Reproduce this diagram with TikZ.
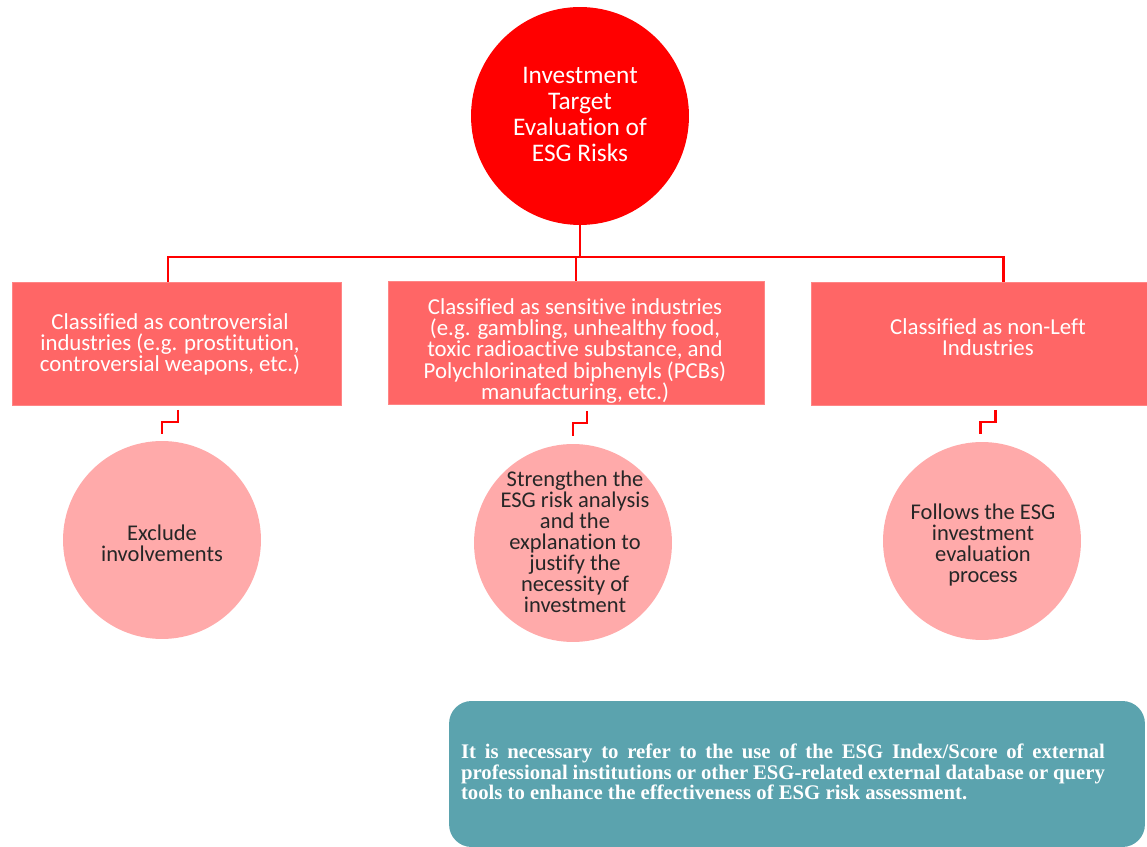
\documentclass[tikz,border=0pt]{standalone}
\usepackage{fontspec}
\setmainfont{Carlito}[Ligatures=NoCommon]
\newfontfamily\notefont{Liberation Serif}
\definecolor{riskred}{RGB}{255,0,0}
\definecolor{classred}{RGB}{255,102,102}
\definecolor{actpink}{RGB}{255,170,170}
\definecolor{noteteal}{RGB}{91,163,174}
\definecolor{darktext}{RGB}{38,38,38}
\tikzset{
  link/.style={riskred, line width=1.7pt},
  classbox/.style={fill=classred, draw=classred!80!white, minimum height=2.46cm, text=white, align=center,
    font=\fontsize{13}{12}\selectfont},
  actcircle/.style={circle, fill=actpink, minimum size=3.96cm, inner sep=0pt, text=darktext, align=center,
    font=\fontsize{12.8}{12}\selectfont}
}
\begin{document}
\begin{tikzpicture}[x=0.02cm, y=-0.02cm]
\useasboundingbox (0,0) rectangle (1147,847);

\node[circle, fill=riskred, minimum size=4.36cm, inner sep=0pt] (risk) at (580, 116) {};
\node[text=white, align=center, font=\fontsize{14.4}{14.8}\selectfont] (risktext) at (580, 114)
  {Investment\\Target\\Evaluation of\\ESG Risks};

% three classes
\node[classbox, minimum width=6.58cm] (ctrv) at (176.5, 344) {};
\node[classbox, minimum width=7.52cm] (sens) at (576, 343) {};
\node[classbox, minimum width=6.72cm] (nonleft) at (979, 344) {};
\node[text=white, align=center, font=\fontsize{13}{12}\selectfont] (ctrvtext) at (170, 344)
  {Classified as controversial\\industries (e.g. prostitution,\\controversial weapons, etc.)};
\node[text=white, align=center, font=\fontsize{13}{12}\selectfont] (senstext) at (575, 351)
  {Classified as sensitive industries\\(e.g. gambling, unhealthy food,\\toxic radioactive substance, and\\Polychlorinated biphenyls (PCBs)\\manufacturing, etc.)};
\node[text=white, align=center, font=\fontsize{13}{12}\selectfont] (nonlefttext) at (988, 337)
  {Classified as non-Left\\Industries};

\coordinate (bar) at (580, 257);
\coordinate (ctrvtop) at (168, 282);
\coordinate (nonlefttop) at (1003, 282);
\draw[link] (risk.south) -- (bar);
\draw[link] (ctrvtop) |- (bar) -| (nonlefttop);
\draw[link] (bar -| sens.north) -- (sens.north);

% actions
\node[actcircle] (exclude) at (162, 540) {};
\node[actcircle] (strengthen) at (573, 543) {};
\node[actcircle] (follow) at (982, 541) {};
\node[text=darktext, align=center, font=\fontsize{12.8}{12}\selectfont] (excludetext) at (162, 543)
  {Exclude\\involvements};
\node[text=darktext, align=center, font=\fontsize{12.8}{12}\selectfont] (strengthentext) at (575, 542)
  {Strengthen the\\ESG risk analysis\\and the\\explanation to\\justify the\\necessity of\\investment};
\node[text=darktext, align=center, font=\fontsize{12.8}{12}\selectfont] (followtext) at (983, 545)
  {Follows the ESG\\investment\\evaluation\\process};

\coordinate (ctrvstep) at (178, 410);
\coordinate (excludestep) at (162, 434);
\coordinate (sensstep) at (587, 411);
\coordinate (strengthenstep) at (573, 436);
\coordinate (nonleftstep) at (995, 410);
\coordinate (followstep) at (980, 434);
\draw[link] (ctrvstep) -- ++(0,12) -| (excludestep);
\draw[link] (sensstep) -- ++(0,12) -| (strengthenstep);
\draw[link] (nonleftstep) -- ++(0,12) -| (followstep);

% note
\node[fill=noteteal, rounded corners=0.45cm, minimum width=13.92cm, minimum height=2.92cm] (note) at (797, 774) {};
\node[text=white, text width=12.88cm, align=justify, font=\notefont\bfseries\fontsize{11.8}{11.5}\selectfont] (notetext) at (783, 772)
  {It is necessary to refer to the use of the ESG Index/Score of external\linebreak
  professional institutions or other ESG-related external database or query\linebreak
  tools to enhance the effectiveness of ESG risk assessment.};
\end{tikzpicture}
\end{document}
